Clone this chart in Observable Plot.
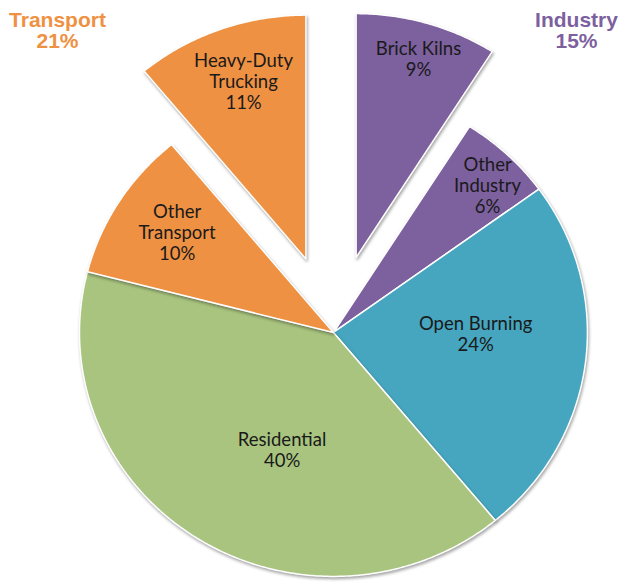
<!DOCTYPE html>
<html>
<head>
<meta charset="utf-8">
<script src="https://cdn.jsdelivr.net/npm/d3@7"></script>
<script src="https://cdn.jsdelivr.net/npm/@observablehq/plot@0.6"></script>
<style>
  html, body { margin: 0; padding: 0; background: #fff; }
  #chart g[aria-label="line"] path { filter: drop-shadow(1.5px 2px 1.5px rgba(0,0,0,0.35)); }
</style>
</head>
<body>
<div id="chart"></div>
<script>
// ---- data ----
const categories = ["Brick Kilns", "Other Industry", "Open Burning", "Residential", "Other Transport", "Heavy-Duty Trucking"];
const shares = [9, 6, 24, 40, 10, 11];
const sectors = ["Industry", "Industry", "Open Burning", "Residential", "Transport", "Transport"];
const labelText = ["Brick Kilns", "Other\nIndustry", "Open Burning", "Residential", "Other\nTransport", "Heavy-Duty\nTrucking"];
const groups = ["Transport", "Industry"];
const groupShares = [21, 15];

// ---- layout / style ----
const sectorColors = {Industry: "#7D609E", "Open Burning": "#46A6BF", Residential: "#A9C47F", Transport: "#EF9142"};
const explode = [0.32, 0, 0, 0, 0, 0.32];
const labelR = [0.85, 0.855, 0.56, 0.52, 0.74, 0.77];
const labelDA = [0.6, 2, -6.8, -9.5, 1.3, 1.2];

const W = 625, H = 582;
const total = d3.sum(shares);
const rad = (deg) => deg * Math.PI / 180;

// build slice polygons from the shares
const pts = [];
const labels = [];
let cum = 0;
categories.forEach((c, i) => {
  const a0 = cum / total * 360;
  const a1 = (cum + shares[i]) / total * 360;
  cum += shares[i];
  const mid = (a0 + a1) / 2;
  const ox = explode[i] * Math.sin(rad(mid));
  const oy = explode[i] * Math.cos(rad(mid));
  pts.push({name: c, sector: sectors[i], x: ox, y: oy});
  const n = Math.max(2, Math.ceil((a1 - a0) / 0.5));
  for (let k = 0; k <= n; k++) {
    const a = a0 + (a1 - a0) * k / n;
    pts.push({name: c, sector: sectors[i], x: ox + Math.sin(rad(a)), y: oy + Math.cos(rad(a))});
  }
  pts.push({name: c, sector: sectors[i], x: ox, y: oy});
  const la = mid + labelDA[i];
  labels.push({
    text: labelText[i] + "\n" + shares[i] + "%",
    x: ox + labelR[i] * Math.sin(rad(la)),
    y: oy + labelR[i] * Math.cos(rad(la))
  });
});

const groupLabels = groups.map((g, i) => ({text: g + "\n" + groupShares[i] + "%", sector: g}));
const groupFont = {text: "text", fill: (d) => sectorColors[d.sector], fontSize: 21, fontWeight: "bold", lineHeight: 1.0, lineAnchor: "top", textAnchor: "middle", fontFamily: "'Liberation Sans', Arial, sans-serif"};

const chart = Plot.plot({
  width: W,
  height: H,
  margin: 0,
  x: {domain: [-1.311, 1.150], range: [0, W], axis: null},
  y: {domain: [-1.025, 1.361], range: [H, 0], axis: null},
  style: {background: "#fff"},
  marks: [
    Plot.line(pts, {x: "x", y: "y", z: "name", fill: (d) => sectorColors[d.sector], stroke: "#fff", strokeWidth: 1.5, strokeLinejoin: "round", curve: "linear"}),
    Plot.text(labels, {x: "x", y: "y", text: "text", fill: "#1a1a1a", fontSize: 18.5, lineHeight: 1.14, fontFamily: "Lato, 'Open Sans', sans-serif", lineAnchor: "middle"}),
    Plot.text(groupLabels.slice(0, 1), {...groupFont, frameAnchor: "top-left", dx: 57, dy: 12}),
    Plot.text(groupLabels.slice(1), {...groupFont, frameAnchor: "top-right", dx: -49, dy: 12})
  ]
});
document.getElementById("chart").appendChild(chart);
</script>
</body>
</html>
